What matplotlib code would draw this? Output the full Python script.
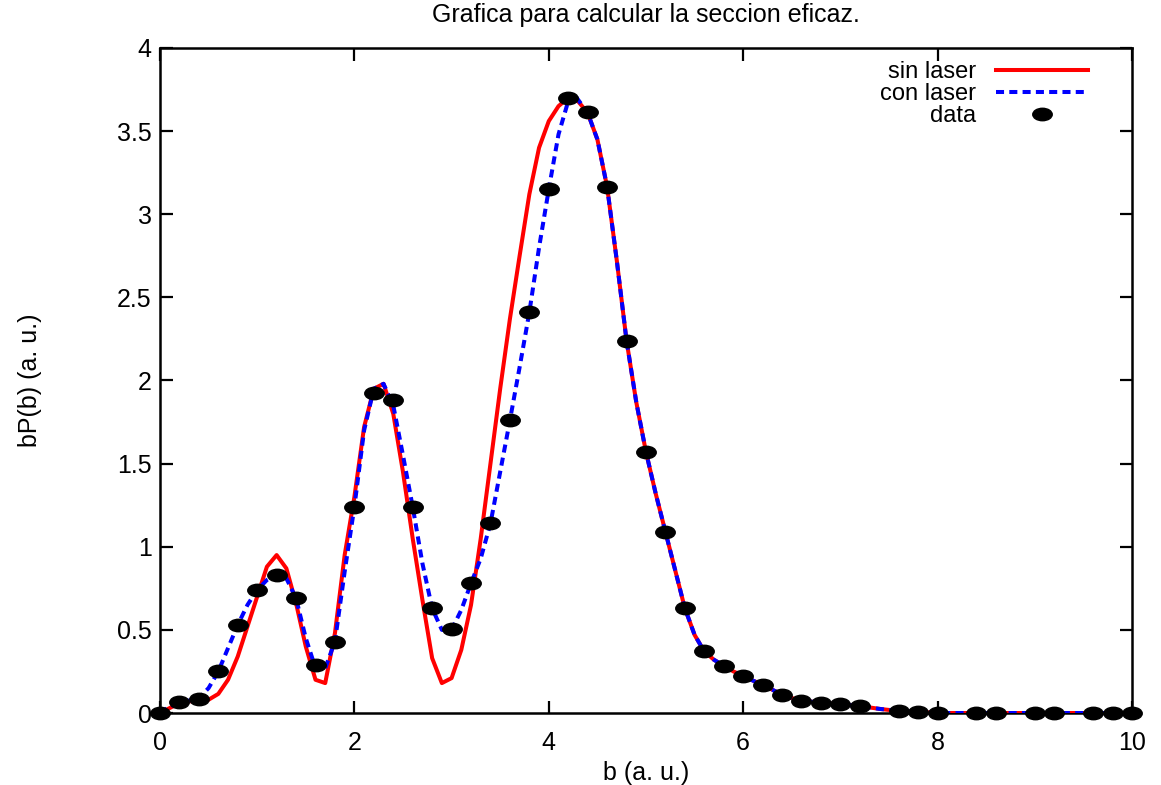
import numpy as np
import matplotlib
matplotlib.use('Agg')
import matplotlib.pyplot as plt
from matplotlib.path import Path
from matplotlib.transforms import Affine2D

plt.rcParams['font.family'] = ['Liberation Sans', 'DejaVu Sans']

# "data" points
b_data = [0.0, 0.2, 0.4, 0.6, 0.8, 1.0, 1.2, 1.4, 1.6, 1.8, 2.0, 2.2, 2.4, 2.6, 2.8,
          3.0, 3.2, 3.4, 3.6, 3.8, 4.0, 4.2, 4.4, 4.6, 4.8, 5.0, 5.2, 5.4, 5.6, 5.8,
          6.0, 6.2, 6.4, 6.6, 6.8, 7.0, 7.2, 7.6, 7.8, 8.0, 8.4, 8.6, 9.0, 9.2, 9.6,
          9.8, 10.0]
bp_data = [0.0, 0.066, 0.084, 0.25, 0.53, 0.74, 0.83, 0.69, 0.29, 0.43, 1.24, 1.925,
           1.88, 1.24, 0.63, 0.505, 0.78, 1.14, 1.76, 2.41, 3.15, 3.70, 3.615, 3.165,
           2.24, 1.57, 1.09, 0.63, 0.37, 0.285, 0.223, 0.17, 0.11, 0.074, 0.062,
           0.052, 0.042, 0.012, 0.008, 0.0, 0.0, 0.0, 0.0, 0.0, 0.0, 0.0, 0.0]

# "sin laser" curve
b_sin = [0.0, 0.1, 0.2, 0.3, 0.4, 0.5, 0.6, 0.7, 0.8, 0.9, 1.0, 1.1, 1.2, 1.3, 1.4,
         1.5, 1.6, 1.7, 1.8, 1.9, 2.0, 2.1, 2.2, 2.3, 2.4, 2.5, 2.6, 2.7, 2.8, 2.9,
         3.0, 3.1, 3.2, 3.3, 3.4, 3.5, 3.6, 3.7, 3.8, 3.9, 4.0, 4.1, 4.2, 4.3, 4.4,
         4.5, 4.6, 4.7, 4.8, 4.9, 5.0, 5.1, 5.2, 5.3, 5.4, 5.5, 5.6, 5.7, 5.8, 5.9,
         6.0, 6.1, 6.2, 6.3, 6.4, 6.5, 6.6, 6.7, 6.8, 6.9, 7.0, 7.2, 7.4, 7.6, 7.8,
         8.0, 8.5, 9.0, 9.5, 10.0]
bp_sin = [0.0, 0.03, 0.06, 0.07, 0.075, 0.08, 0.115, 0.2, 0.34, 0.52, 0.70, 0.88,
          0.95, 0.87, 0.66, 0.40, 0.20, 0.18, 0.48, 0.95, 1.30, 1.72, 1.95, 1.98,
          1.80, 1.45, 1.05, 0.68, 0.33, 0.18, 0.21, 0.38, 0.65, 1.05, 1.50, 1.95,
          2.37, 2.75, 3.12, 3.40, 3.56, 3.65, 3.70, 3.68, 3.61, 3.45, 3.165, 2.72,
          2.24, 1.87, 1.57, 1.32, 1.09, 0.86, 0.63, 0.47, 0.37, 0.32, 0.285, 0.25,
          0.223, 0.195, 0.17, 0.14, 0.11, 0.09, 0.074, 0.068, 0.062, 0.057, 0.052,
          0.042, 0.025, 0.012, 0.008, 0.0, 0.0, 0.0, 0.0, 0.0]

# "con laser" curve
b_con = [0.0, 0.1, 0.2, 0.3, 0.4, 0.5, 0.6, 0.7, 0.8, 0.9, 1.0, 1.1, 1.2, 1.3, 1.4,
         1.5, 1.6, 1.7, 1.8, 1.9, 2.0, 2.1, 2.2, 2.3, 2.4, 2.5, 2.6, 2.7, 2.8, 2.9,
         3.0, 3.1, 3.2, 3.3, 3.4, 3.5, 3.6, 3.7, 3.8, 3.9, 4.0, 4.1, 4.2, 4.25, 4.3,
         4.4, 4.5, 4.6, 4.7, 4.8, 4.9, 5.0, 5.1, 5.2, 5.3, 5.4, 5.5, 5.6, 5.7, 5.8,
         5.9, 6.0, 6.1, 6.2, 6.3, 6.4, 6.5, 6.6, 6.7, 6.8, 6.9, 7.0, 7.2, 7.4, 7.6,
         7.8, 8.0, 8.5, 9.0, 9.5, 10.0]
bp_con = [0.0, 0.04, 0.066, 0.075, 0.09, 0.15, 0.25, 0.39, 0.53, 0.65, 0.74, 0.80,
          0.83, 0.81, 0.69, 0.45, 0.27, 0.27, 0.43, 0.85, 1.24, 1.70, 1.95, 1.98,
          1.85, 1.55, 1.24, 0.90, 0.63, 0.50, 0.50, 0.62, 0.78, 0.93, 1.14, 1.45,
          1.76, 2.08, 2.41, 2.80, 3.15, 3.48, 3.68, 3.73, 3.69, 3.61, 3.45, 3.165,
          2.72, 2.24, 1.87, 1.57, 1.32, 1.09, 0.86, 0.63, 0.47, 0.37, 0.32, 0.285,
          0.25, 0.223, 0.195, 0.17, 0.14, 0.11, 0.09, 0.074, 0.068, 0.062, 0.057,
          0.052, 0.042, 0.025, 0.012, 0.008, 0.0, 0.0, 0.0, 0.0, 0.0]

xticks = [0, 2, 4, 6, 8, 10]
yticks = [0, 0.5, 1, 1.5, 2, 2.5, 3, 3.5, 4]
ytick_labels = ['0', '0.5', '1', '1.5', '2', '2.5', '3', '3.5', '4']

fig = plt.figure(figsize=(11.61, 7.85), dpi=100)
ax = fig.add_axes([0.1378, 0.0917, 0.8372, 0.8472])

# squashed circle marker like the gnuplot output
ellipse = Path.unit_circle().transformed(Affine2D().scale(1.0, 0.64))

ax.plot(b_sin, bp_sin, color='#ff0000', lw=2.9, label='sin laser', zorder=3)
ax.plot(b_con, bp_con, color='#0000ff', lw=2.9, dashes=(2.0, 1.3), label='con laser', zorder=4)
ax.plot(b_data, bp_data, ls='none', marker=ellipse, ms=14, color='black',
        label='data', zorder=5, clip_on=False)

ax.set_xlim(0, 10)
ax.set_ylim(0, 4)
ax.set_xticks(xticks)
ax.set_yticks(yticks)
ax.set_yticklabels(ytick_labels)
ax.tick_params(direction='in', length=9, width=1.6, top=True, right=True,
               labelsize=18)
ax.tick_params(axis='x', pad=13)
ax.tick_params(axis='y', pad=6)
for s in ax.spines.values():
    s.set_linewidth(1.8)

ax.set_title('Grafica para calcular la seccion eficaz.', fontsize=18, pad=19)
ax.set_xlabel('b (a. u.)', fontsize=18, labelpad=4)
ax.set_ylabel('bP(b) (a. u.)', fontsize=18, labelpad=54)

leg = ax.legend(loc='upper right', frameon=False, fontsize=17, markerfirst=False,
                handlelength=3.9, handletextpad=0.85, labelspacing=0.0,
                borderaxespad=0.0, borderpad=0.0,
                bbox_to_anchor=(1 - 44 / 972, 1 - 13 / 665))

plt.savefig('out.png', dpi=100)
plt.close()
